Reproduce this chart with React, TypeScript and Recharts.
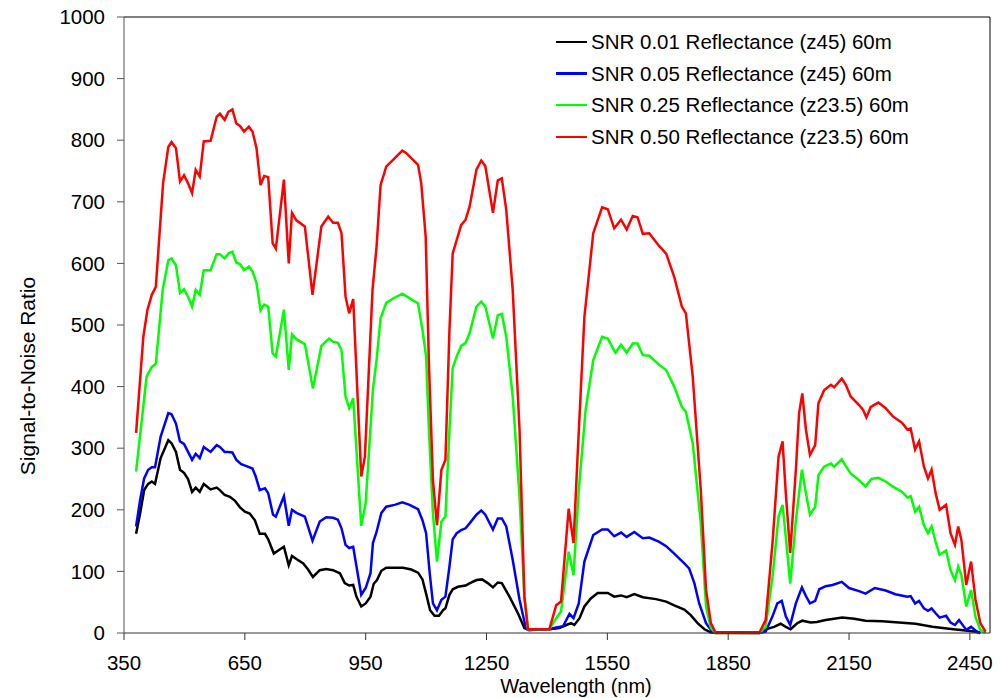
import React from 'react';
import { LineChart, Line, XAxis, YAxis, ReferenceLine, Legend } from 'recharts';

// wavelength (nm) / SNR pairs, one pair of arrays per curve
const blackWl = [380, 390, 400, 410, 419, 427, 441, 460, 468, 479, 489, 499, 509, 519, 528, 538, 548, 565, 580, 588, 600, 613, 625, 638, 650, 662, 675, 687, 700, 708, 722, 731, 747, 759, 767, 778, 795, 807, 819, 836, 852, 869, 886, 898, 909, 919, 927, 939, 950, 962, 970, 978, 989, 1001, 1043, 1063, 1080, 1091, 1100, 1110, 1121, 1132, 1142, 1148, 1158, 1166, 1179, 1198, 1209, 1225, 1239, 1253, 1266, 1278, 1288, 1307, 1328, 1344, 1355, 1406, 1431, 1448, 1460, 1468, 1481, 1493, 1509, 1526, 1551, 1567, 1584, 1598, 1617, 1638, 1671, 1696, 1716, 1741, 1757, 1774, 1791, 1807, 1927, 1943, 1964, 1980, 1993, 2005, 2022, 2034, 2055, 2070, 2092, 2133, 2163, 2191, 2232, 2274, 2315, 2357, 2398, 2439, 2464, 2476];
const blackSnr = [161, 194, 232, 242, 246, 242, 284, 313, 308, 294, 265, 260, 250, 229, 236, 229, 242, 233, 236, 232, 224, 221, 215, 204, 197, 194, 183, 161, 161, 152, 129, 133, 140, 110, 125, 120, 113, 103, 91, 102, 104, 102, 97, 81, 77, 78, 59, 43, 48, 59, 80, 86, 101, 106, 106, 103, 98, 87, 64, 37, 28, 28, 37, 40, 62, 71, 75, 77, 81, 86, 87, 81, 74, 82, 81, 59, 32, 8, 5, 6, 8, 13, 16, 13, 24, 43, 56, 65, 65, 59, 61, 58, 63, 58, 55, 51, 45, 38, 29, 16, 6, 1, 1, 6, 10, 15, 10, 6, 16, 20, 17, 18, 21, 25, 23, 20, 19, 17, 15, 10, 7, 4, 2, 0];

const blueWl = [380, 390, 400, 410, 419, 427, 441, 460, 468, 479, 489, 499, 509, 519, 528, 538, 548, 565, 580, 588, 600, 609, 619, 629, 641, 654, 669, 677, 687, 700, 708, 720, 727, 747, 759, 767, 778, 799, 818, 836, 852, 869, 881, 890, 900, 909, 919, 939, 950, 962, 968, 977, 989, 1001, 1022, 1041, 1059, 1080, 1091, 1100, 1109, 1117, 1127, 1138, 1148, 1158, 1166, 1176, 1187, 1198, 1208, 1225, 1237, 1247, 1266, 1278, 1288, 1299, 1315, 1332, 1348, 1355, 1406, 1423, 1440, 1456, 1466, 1479, 1493, 1515, 1537, 1551, 1567, 1584, 1598, 1617, 1638, 1654, 1679, 1696, 1716, 1741, 1753, 1766, 1778, 1795, 1812, 1927, 1943, 1960, 1972, 1983, 1993, 2004, 2018, 2033, 2043, 2053, 2066, 2076, 2092, 2109, 2132, 2150, 2175, 2191, 2214, 2241, 2265, 2295, 2303, 2314, 2324, 2336, 2346, 2355, 2365, 2375, 2391, 2402, 2413, 2423, 2431, 2441, 2453, 2466, 2476];
const blueSnr = [173, 216, 251, 265, 269, 269, 319, 357, 355, 340, 311, 307, 294, 281, 291, 284, 302, 294, 305, 302, 294, 294, 293, 281, 274, 271, 267, 254, 232, 235, 227, 192, 189, 222, 174, 200, 195, 189, 150, 181, 188, 187, 184, 170, 143, 138, 140, 62, 73, 97, 146, 164, 195, 205, 208, 212, 208, 201, 183, 162, 97, 48, 37, 54, 59, 108, 152, 162, 167, 170, 178, 192, 199, 192, 168, 186, 186, 173, 119, 54, 7, 5, 6, 9, 11, 31, 24, 48, 116, 159, 168, 168, 157, 163, 156, 164, 154, 155, 148, 141, 129, 113, 105, 81, 48, 16, 1, 0, 2, 27, 48, 52, 27, 13, 48, 74, 60, 48, 52, 71, 76, 78, 83, 73, 68, 64, 73, 69, 63, 59, 60, 48, 52, 40, 36, 40, 32, 25, 28, 17, 13, 21, 14, 5, 10, 3, 0];

const greenWl = [380, 406, 419, 429, 446, 460, 468, 479, 489, 499, 509, 519, 528, 538, 548, 565, 580, 588, 600, 609, 619, 629, 638, 648, 660, 669, 679, 689, 698, 708, 719, 727, 747, 759, 767, 778, 799, 819, 840, 859, 869, 881, 890, 900, 909, 919, 939, 950, 968, 977, 987, 1001, 1018, 1041, 1080, 1091, 1100, 1107, 1117, 1127, 1138, 1148, 1158, 1166, 1176, 1187, 1198, 1208, 1225, 1237, 1247, 1266, 1278, 1288, 1299, 1315, 1332, 1344, 1353, 1406, 1423, 1435, 1454, 1466, 1479, 1496, 1515, 1537, 1551, 1570, 1584, 1598, 1613, 1625, 1638, 1654, 1679, 1696, 1716, 1735, 1745, 1762, 1782, 1795, 1807, 1819, 1927, 1943, 1960, 1975, 1985, 1993, 2004, 2018, 2033, 2043, 2053, 2066, 2074, 2088, 2105, 2113, 2132, 2142, 2154, 2175, 2191, 2206, 2223, 2241, 2258, 2282, 2295, 2303, 2314, 2324, 2336, 2346, 2355, 2365, 2375, 2391, 2402, 2413, 2421, 2429, 2441, 2453, 2464, 2476, 2489];
const greenSnr = [262, 416, 432, 437, 557, 605, 608, 597, 552, 558, 546, 530, 557, 549, 589, 589, 615, 615, 608, 616, 619, 601, 599, 589, 595, 587, 568, 524, 533, 530, 454, 449, 525, 427, 485, 477, 469, 397, 466, 478, 473, 471, 459, 384, 365, 381, 174, 211, 395, 443, 511, 536, 543, 551, 535, 492, 449, 330, 194, 116, 181, 189, 330, 430, 449, 466, 471, 487, 530, 538, 530, 478, 516, 518, 481, 384, 221, 59, 6, 6, 24, 35, 132, 94, 232, 362, 443, 481, 478, 455, 468, 455, 470, 470, 451, 450, 435, 427, 400, 367, 359, 308, 178, 43, 8, 0, 0, 10, 91, 189, 208, 156, 80, 183, 265, 227, 192, 205, 256, 270, 275, 270, 282, 271, 259, 248, 238, 250, 252, 246, 238, 229, 220, 222, 197, 205, 175, 162, 173, 148, 127, 134, 102, 86, 108, 94, 43, 70, 26, 5, 0];

const redWl = [380, 398, 408, 419, 429, 447, 460, 468, 479, 489, 499, 509, 519, 528, 538, 548, 565, 580, 588, 600, 609, 619, 629, 638, 648, 660, 669, 679, 689, 698, 708, 719, 727, 747, 759, 767, 778, 799, 818, 840, 857, 869, 881, 890, 900, 909, 919, 939, 948, 967, 977, 987, 1001, 1018, 1041, 1051, 1080, 1088, 1099, 1107, 1117, 1127, 1138, 1148, 1158, 1166, 1176, 1187, 1198, 1208, 1225, 1237, 1247, 1266, 1278, 1288, 1299, 1315, 1332, 1344, 1353, 1406, 1423, 1435, 1454, 1466, 1476, 1493, 1515, 1537, 1551, 1567, 1584, 1598, 1613, 1625, 1638, 1654, 1679, 1696, 1716, 1735, 1745, 1762, 1782, 1795, 1807, 1819, 1927, 1943, 1960, 1975, 1985, 1993, 2004, 2018, 2026, 2034, 2043, 2053, 2066, 2074, 2088, 2105, 2113, 2132, 2142, 2154, 2175, 2185, 2193, 2204, 2223, 2241, 2258, 2282, 2295, 2303, 2314, 2324, 2336, 2346, 2355, 2365, 2375, 2391, 2402, 2413, 2421, 2429, 2441, 2453, 2464, 2476, 2489];
const redSnr = [325, 481, 524, 549, 562, 730, 789, 797, 787, 733, 743, 730, 714, 752, 741, 798, 799, 838, 843, 833, 846, 850, 827, 823, 814, 822, 814, 787, 727, 742, 740, 633, 624, 736, 600, 682, 670, 660, 549, 660, 676, 666, 666, 649, 546, 519, 542, 254, 286, 557, 627, 727, 757, 768, 783, 779, 760, 730, 643, 438, 248, 175, 265, 281, 492, 616, 638, 662, 671, 692, 752, 767, 758, 682, 735, 738, 687, 557, 330, 59, 6, 6, 45, 51, 202, 146, 286, 513, 649, 691, 688, 657, 671, 655, 677, 675, 648, 649, 628, 616, 578, 530, 519, 416, 232, 70, 16, 0, 0, 21, 146, 286, 311, 227, 130, 265, 357, 389, 330, 289, 305, 373, 394, 403, 399, 413, 403, 384, 370, 362, 350, 367, 374, 365, 352, 341, 330, 332, 298, 311, 270, 251, 265, 227, 200, 208, 162, 143, 173, 151, 78, 116, 54, 16, 2];

const seriesNames = [
  'SNR 0.01 Reflectance (z45) 60m',
  'SNR 0.05 Reflectance (z45) 60m',
  'SNR 0.25 Reflectance (z23.5) 60m',
  'SNR 0.50 Reflectance (z23.5) 60m',
];
const seriesColors = ['#000000', '#0000ff', '#00ff00', '#ff0000'];

const xTicks = [350, 650, 950, 1250, 1550, 1850, 2150, 2450];
const yTicks = [0, 100, 200, 300, 400, 500, 600, 700, 800, 900, 1000];

const toPoints = (wl: number[], snr: number[]) => wl.map((w, i) => ({ nm: w, snr: snr[i] }));

const series = [
  toPoints(blackWl, blackSnr),
  toPoints(blueWl, blueSnr),
  toPoints(greenWl, greenSnr),
  toPoints(redWl, redSnr),
];

const FONT = '"Liberation Sans", Arial, sans-serif';
const tickStyle = { fill: '#000', fontSize: 20.5, fontFamily: FONT };

const YTitle = () => (
  <text
    x={27}
    y={376}
    transform="rotate(-90, 27, 376)"
    textAnchor="middle"
    dominantBaseline="central"
    fontSize={21}
    fontFamily={FONT}
    fill="#000"
  >
    Signal-to-Noise Ratio
  </text>
);

const XTitle = () => (
  <text x={576} y={693} textAnchor="middle" fontSize={20} fontFamily={FONT} fill="#000">
    Wavelength (nm)
  </text>
);

const LegendBox = () => (
  <div style={{ fontFamily: FONT, fontSize: 20.5, color: '#000' }}>
    {seriesNames.map((name, i) => (
      <div key={name} style={{ display: 'flex', alignItems: 'center', height: 31.7, whiteSpace: 'nowrap' }}>
        <div style={{ width: 31, height: 2.5, background: seriesColors[i], marginRight: 4 }} />
        <span>{name}</span>
      </div>
    ))}
  </div>
);

export default function App() {
  return (
    <div style={{ position: 'absolute', left: 0, top: 0, background: '#fff' }}>
      <LineChart width={1000} height={698} margin={{ top: 17, right: 10, left: 0, bottom: 0 }}>
        <XAxis
          type="number"
          dataKey="nm"
          domain={[350, 2500]}
          ticks={xTicks}
          interval={0}
          allowDuplicatedCategory={false}
          height={65}
          tick={tickStyle}
          tickSize={7}
          tickMargin={15}
          stroke="#333"
          label={<XTitle />}
        />
        <YAxis
          type="number"
          dataKey="snr"
          domain={[0, 1000]}
          ticks={yTicks}
          interval={0}
          width={124}
          tick={tickStyle}
          tickSize={7}
          tickMargin={12}
          stroke="#555"
          label={<YTitle />}
        />
        <ReferenceLine y={1000} stroke="#000" strokeWidth={1} />
        <ReferenceLine x={2500} stroke="#000" strokeWidth={1} />
        <Legend
          layout="vertical"
          align="center"
          verticalAlign="middle"
          wrapperStyle={{ left: 556, top: 26, width: 430 }}
          content={<LegendBox />}
        />
        {series.map((pts, i) => (
          <Line
            key={seriesNames[i]}
            data={pts}
            dataKey="snr"
            name={seriesNames[i]}
            type="linear"
            stroke={seriesColors[i]}
            strokeWidth={2.5}
            dot={false}
            activeDot={false}
            isAnimationActive={false}
          />
        ))}
      </LineChart>
    </div>
  );
}
